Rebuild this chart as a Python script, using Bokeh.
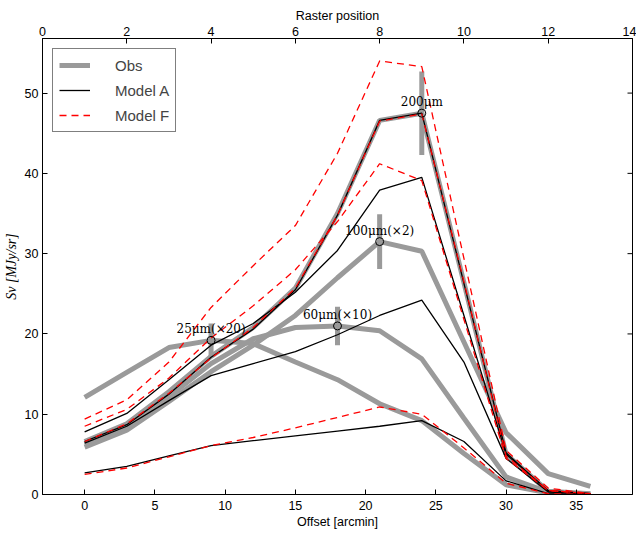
import math
from bokeh.plotting import figure
from bokeh.models import Range1d, LinearAxis, FixedTicker, Legend, LegendItem
from bokeh.core.properties import value
from bokeh.embed import file_html
from bokeh.resources import INLINE

# ---------------- data ----------------
offset = [0, 3, 6, 9, 12, 15, 18, 21, 24, 27, 30, 33, 36]

obs_200 = [6.6, 8.8, 12.8, 17.2, 20.8, 25.7, 35.0, 46.6, 47.5, 26.4, 5.0, 0.4, 0.1]
obs_100 = [5.9, 8.0, 11.6, 15.3, 18.6, 22.3, 27.0, 31.5, 30.3, 19.0, 7.7, 2.6, 1.0]
obs_60 = [6.3, 8.4, 12.2, 16.3, 19.4, 20.8, 21.0, 20.4, 16.9, 9.5, 2.2, 0.3, 0.05]
obs_25 = [12.1, 15.2, 18.3, 19.2, 18.8, 16.5, 14.3, 11.3, 9.2, 5.1, 1.2, 0.2, 0.0]

model_a_1 = [6.6, 8.7, 12.5, 17.1, 20.6, 25.5, 34.8, 46.6, 47.5, 26.3, 5.2, 0.4, 0.1]
model_a_2 = [7.8, 10.1, 14.3, 18.6, 21.3, 25.2, 30.4, 37.9, 39.5, 22.3, 5.0, 0.5, 0.1]
model_a_3 = [6.4, 8.5, 11.7, 14.8, 16.3, 17.8, 19.9, 22.3, 24.2, 16.5, 4.5, 0.3, 0.1]
model_a_4 = [2.7, 3.5, 4.8, 6.1, 6.7, 7.3, 7.9, 8.5, 9.2, 6.6, 1.7, 0.1, 0.0]

model_f_1 = [9.4, 11.8, 16.5, 23.3, 28.5, 33.5, 42.5, 54.0, 53.3, 29.4, 5.5, 0.8, 0.1]
model_f_2 = [8.5, 10.6, 14.5, 19.5, 23.5, 28.0, 34.0, 41.2, 39.1, 21.8, 4.5, 0.5, 0.1]
model_f_3 = [6.6, 8.8, 12.6, 17.0, 20.8, 25.7, 34.8, 46.5, 47.4, 26.5, 4.8, 0.5, 0.1]
model_f_4 = [2.5, 3.3, 4.7, 6.1, 7.1, 8.3, 9.6, 10.9, 10.0, 5.8, 1.4, 0.1, 0.0]

# marked points with error bars
mark_x = [24, 21, 18, 9]
mark_y = [47.5, 31.5, 21.0, 19.2]
mark_err = [5.2, 3.4, 2.4, 2.1]
mark_labels = ["200\u03bcm", "100\u03bcm(\u00d72)", "60\u03bcm(\u00d710)", "25\u03bcm(\u00d720)"]

x_ticks = [0, 5, 10, 15, 20, 25, 30, 35]
y_ticks = [0, 10, 20, 30, 40, 50]
raster_ticks = [0, 2, 4, 6, 8, 10, 12, 14]
x_start, x_end = -3, 39
y_start, y_end = 0, 56.8

GRAY = "#9a9a9a"
TICK_FONT = "Liberation Sans"

p = figure(frame_width=590, frame_height=456,
           x_range=Range1d(x_start, x_end), y_range=Range1d(y_start, y_end),
           output_backend="svg", toolbar_location=None,
           min_border_left=34, min_border_right=4, min_border_top=38, min_border_bottom=36)
p.extra_x_ranges = {"raster": Range1d(0, 14)}
p.grid.visible = False
p.background_fill_color = "white"
p.outline_line_color = "black"


def style_axis(ax):
    ax.major_tick_in = 5
    ax.major_tick_out = 0
    ax.minor_tick_line_color = None
    ax.axis_line_color = "black"
    ax.major_tick_line_color = "black"
    ax.major_label_text_font = TICK_FONT
    ax.major_label_text_font_size = "12.5px"
    ax.major_label_text_color = "black"
    ax.major_label_standoff = 4
    ax.axis_label_text_font = TICK_FONT
    ax.axis_label_text_font_size = "12.5px"
    ax.axis_label_text_font_style = "normal"
    ax.axis_label_text_color = "black"
    ax.axis_label_standoff = 2


xa = p.xaxis[0]
xa.ticker = FixedTicker(ticks=x_ticks)
xa.axis_label = "Offset [arcmin]"
style_axis(xa)
xa.major_label_standoff = 6

ya = p.yaxis[0]
ya.ticker = FixedTicker(ticks=y_ticks)
ya.axis_label = "S\u03bd [MJy/sr]"
style_axis(ya)
ya.axis_label_text_font = "Liberation Serif"
ya.axis_label_text_font_style = "italic"
ya.axis_label_text_font_size = "14px"
ya.major_label_standoff = 4
ya.axis_label_standoff = 3

top = LinearAxis(x_range_name="raster", ticker=FixedTicker(ticks=raster_ticks),
                 axis_label="Raster position")
style_axis(top)
top.major_label_standoff = 3
top.axis_label_standoff = 1
p.add_layout(top, "above")

# inward tick marks on the right spine (no labels)
p.ray(x=[x_end] * len(y_ticks), y=y_ticks, length=5, length_units="screen",
      angle=math.pi, line_color="black", line_width=1)

# observations
obs_r = None
for ys in [obs_200, obs_100, obs_60, obs_25]:
    r = p.line(offset, ys, line_color=GRAY, line_width=5)
    if obs_r is None:
        obs_r = r

# error bars
lo = [m - e for m, e in zip(mark_y, mark_err)]
hi = [m + e for m, e in zip(mark_y, mark_err)]
p.segment(x0=mark_x, y0=lo, x1=mark_x, y1=hi, line_color=GRAY, line_width=5)

# models
a_r = None
for ys in [model_a_1, model_a_2, model_a_3, model_a_4]:
    r = p.line(offset, ys, line_color="black", line_width=1.3)
    if a_r is None:
        a_r = r
f_r = None
for ys in [model_f_1, model_f_2, model_f_3, model_f_4]:
    r = p.line(offset, ys, line_color="#ff0000", line_width=1.3, line_dash="7 5")
    if f_r is None:
        f_r = r

p.scatter(mark_x, mark_y, marker="circle", size=8, fill_color=None,
          line_color="black", line_width=1)
p.text(x=mark_x, y=mark_y, text=mark_labels, text_align="center",
       text_baseline="bottom", y_offset=-4,
       text_font=value("DejaVu Serif"), text_font_size="12px", text_color="black")

legend = Legend(items=[LegendItem(label="Obs", renderers=[obs_r]),
                       LegendItem(label="Model A", renderers=[a_r]),
                       LegendItem(label="Model F", renderers=[f_r])],
                location="top_left")
legend.margin = 10
legend.padding = 6
legend.spacing = 5
legend.glyph_width = 31
legend.glyph_height = 20
legend.label_height = 20
legend.label_standoff = 25
legend.label_text_font = TICK_FONT
legend.label_text_font_size = "15px"
legend.border_line_color = "black"
legend.border_line_width = 1
legend.background_fill_alpha = 1
p.add_layout(legend, "center")

open("out.html", "w").write(file_html(p, INLINE))
